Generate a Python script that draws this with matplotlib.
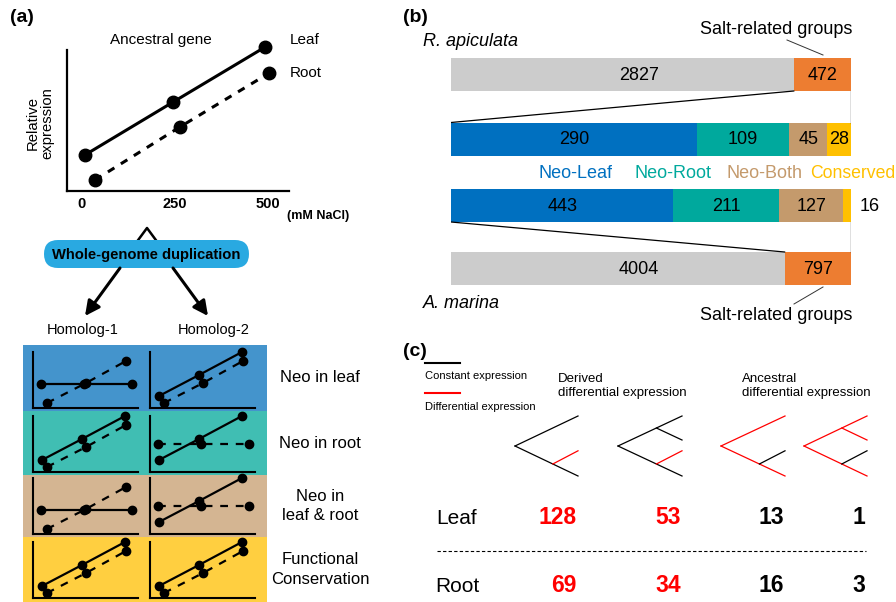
import matplotlib.pyplot as plt
from matplotlib.patches import Rectangle, FancyBboxPatch

plt.rcParams['font.family'] = ['Liberation Sans', 'DejaVu Sans']

W, H = 896, 602

# (a) ancestral gene expression (x in mM NaCl, y relative expression)
nacl_ticks = [0, 250, 500]
anc_leaf_x = [8, 245, 492]
anc_leaf_y = [36, 89, 144]
anc_root_x = [35, 263, 503]
anc_root_y = [11, 64, 118]

# (a) mini expression profiles for the two homologs
mini_leaf_x = [9, 49, 92]
mini_root_x = [14, 53, 93]
mini_flat_x = [8, 51, 99]
up_leaf = [12, 33, 56]
up_root = [5, 25, 47]
flat_leaf = [24, 24, 24]
flat_root = [28, 28, 28]

scenarios = ['Neo in leaf', 'Neo in root', 'Neo in\nleaf & root', 'Functional\nConservation']
scenario_colors = ['#4494CC', '#40BEB3', '#D4B592', '#FFCF40']
# per scenario: (leaf profile, root profile) for Homolog-1 and Homolog-2
homolog1 = [('flat', 'up'), ('up', 'up'), ('flat', 'up'), ('up', 'up')]
homolog2 = [('up', 'up'), ('up', 'flat'), ('up', 'flat'), ('up', 'up')]

# (b) gene group counts
ra_total = [2827, 472]
ra_salt = [290, 109, 45, 28]
am_salt = [443, 211, 127, 16]
am_total = [4004, 797]
group_names = ['Neo-Leaf', 'Neo-Root', 'Neo-Both', 'Conserved']
group_colors = ['#0070C0', '#00A99D', '#C49A6C', '#FFC000']
total_colors = ['#CCCCCC', '#ED7D31']

# (c) counts per tree pattern
leaf_counts = [128, 53, 13, 1]
root_counts = [69, 34, 16, 3]
count_colors = ['#FF0000', '#FF0000', 'black', 'black']

fig = plt.figure(figsize=(W / 100, H / 100), dpi=100)
ax0 = fig.add_axes([0, 0, 1, 1])
ax0.set_xlim(0, W)
ax0.set_ylim(H, 0)
ax0.axis('off')


def px_axes(x0, y0, x1, y1):
    a = fig.add_axes([x0 / W, 1 - y1 / H, (x1 - x0) / W, (y1 - y0) / H])
    a.patch.set_alpha(0)
    return a


# ---------- panel (a) ----------
ax0.text(10, 18, '(a)', fontsize=14, fontweight='bold', va='center')
ax0.text(161, 40, 'Ancestral gene', fontsize=11, ha='center', va='center')
ax0.text(290, 40, 'Leaf', fontsize=11, va='center')
ax0.text(290, 73, 'Root', fontsize=11, va='center')
ax0.text(40, 123, 'Relative\nexpression', fontsize=10.7, rotation=90,
         ha='center', va='center', linespacing=1.0)
ax0.text(287, 216, '(mM NaCl)', fontsize=9, fontweight='bold', va='center')

axa = px_axes(67, 50, 289, 191)
axa.plot(anc_leaf_x, anc_leaf_y, color='black', lw=2.2, marker='o', ms=9, clip_on=False)
axa.plot(anc_root_x, anc_root_y, color='black', lw=2.2, ls=(0, (2.5, 2.5)),
         marker='o', ms=9, clip_on=False)
axa.set_xlim(-40, 556)
axa.set_ylim(0, 141)
for s in ['top', 'right']:
    axa.spines[s].set_visible(False)
for s in ['left', 'bottom']:
    axa.spines[s].set_linewidth(1.6)
axa.set_xticks(nacl_ticks)
axa.set_xticklabels([str(t) for t in nacl_ticks], fontsize=10.5, fontweight='bold')
axa.tick_params(axis='x', length=0, pad=4)
axa.set_yticks([])

# duplication pill and arrows
ax0.plot([133, 147, 161], [247, 228, 247], color='black', lw=1.8, zorder=1)
pill = FancyBboxPatch((44, 240), 205, 28, boxstyle='round,pad=0,rounding_size=14',
                      facecolor='#29A9E1', edgecolor='none', zorder=2)
ax0.add_patch(pill)
ax0.text(146.5, 255, 'Whole-genome duplication', fontsize=10.6, fontweight='bold',
         ha='center', va='center', zorder=3)
for x0, x1 in [(120, 85), (173, 208)]:
    ax0.annotate('', xy=(x1, 316), xytext=(x0, 268),
                 arrowprops=dict(arrowstyle='-|>', color='black', lw=2.2,
                                 mutation_scale=22, shrinkA=0, shrinkB=0))
ax0.text(83, 330, 'Homolog-1', fontsize=10.5, ha='center', va='center')
ax0.text(214, 330, 'Homolog-2', fontsize=10.5, ha='center', va='center')

band_edges = [345, 411, 475, 537, 602]
mini_bottoms = [408, 472, 534, 598]
profiles = {'up': (mini_leaf_x, up_leaf, mini_root_x, up_root),
            'flat': (mini_flat_x, flat_leaf, mini_flat_x, flat_root)}
for i, name in enumerate(scenarios):
    y0, y1 = band_edges[i], band_edges[i + 1]
    ax0.add_patch(Rectangle((23, y0), 244, y1 - y0, facecolor=scenario_colors[i],
                            edgecolor='none'))
    ax0.text(320, (y0 + y1) / 2, name, fontsize=12, ha='center', va='center',
             linespacing=1.35)
    for col, hom in enumerate([homolog1, homolog2]):
        leaf_kind, root_kind = hom[i]
        x0 = 33 + col * 117
        b = mini_bottoms[i]
        am = px_axes(x0, b - 56, x0 + 105, b)
        lx, ly = profiles[leaf_kind][0], profiles[leaf_kind][1]
        rx, ry = profiles[root_kind][2], profiles[root_kind][3]
        am.plot(lx, ly, color='black', lw=1.6, marker='o', ms=6, clip_on=False)
        am.plot(rx, ry, color='black', lw=1.6, ls=(0, (3.5, 3.5)), marker='o', ms=6,
                clip_on=False)
        am.set_xlim(0, 105)
        am.set_ylim(0, 56)
        am.set_xticks([])
        am.set_yticks([])
        for s in ['top', 'right']:
            am.spines[s].set_visible(False)
        for s in ['left', 'bottom']:
            am.spines[s].set_linewidth(1.5)

# ---------- panel (b) ----------
ax0.text(403, 18, '(b)', fontsize=14, fontweight='bold', va='center')
ax0.text(423, 42, 'R. apiculata', fontsize=13, style='italic', va='center')
ax0.text(423, 303, 'A. marina', fontsize=13, style='italic', va='center')
ax0.text(776, 29, 'Salt-related groups', fontsize=13, ha='center', va='center')
ax0.text(776, 315, 'Salt-related groups', fontsize=13, ha='center', va='center')
ax0.plot([787, 823], [40, 55], color='#333333', lw=0.7)
ax0.plot([823, 794], [287, 304], color='#333333', lw=0.7)
for name, col, x in zip(group_names, group_colors, [538, 634, 727, 810]):
    ax0.text(x, 174, name, fontsize=12.7 if name == 'Conserved' else 13,
             color=col, va='center')

axb = px_axes(451, 0, 851, H)
axb.set_xlim(0, 1)
axb.set_ylim(H, 0)
axb.axis('off')

rows = [(ra_total, total_colors, 74.5), (ra_salt, group_colors, 139),
        (am_salt, group_colors, 205.5), (am_total, total_colors, 268.5)]
bar_h = 33
for vals, cols, yc in rows:
    tot = sum(vals)
    left = 0
    for j, (v, c) in enumerate(zip(vals, cols)):
        w = v / tot
        axb.barh(yc, w, left=left, height=bar_h, color=c, edgecolor='none')
        if c == '#CCCCCC':
            xt = 0.47
        else:
            xt = left + w / 2
        if v / tot > 0.03:
            axb.text(xt, yc + 1, str(v), fontsize=13, ha='center', va='center')
        else:
            axb.text(1.022, yc + 1, str(v), fontsize=13, ha='left', va='center')
        left += w

# connectors from the salt-related segment to its breakdown
ra_split = ra_total[0] / sum(ra_total)
am_split = am_total[0] / sum(am_total)
axb.plot([ra_split, 0], [74.5 + bar_h / 2, 139 - bar_h / 2], color='black', lw=0.9)
axb.plot([1, 1], [74.5 + bar_h / 2, 139 - bar_h / 2], color='black', lw=0.9)
axb.plot([0, am_split], [205.5 + bar_h / 2, 268.5 - bar_h / 2], color='black', lw=0.9)
axb.plot([1, 1], [205.5 + bar_h / 2, 268.5 - bar_h / 2], color='black', lw=0.9)

# ---------- panel (c) ----------
ax0.text(403, 352, '(c)', fontsize=14, fontweight='bold', va='center')
ax0.plot([425, 460], [363, 363], color='black', lw=1.5)
ax0.text(425, 376, 'Constant expression', fontsize=8, va='center')
ax0.plot([425, 460], [393, 393], color='#FF0000', lw=1.5)
ax0.text(425, 407, 'Differential expression', fontsize=8, va='center')
ax0.text(558, 386, 'Derived\ndifferential expression', fontsize=9.5, va='center',
         linespacing=1.15)
ax0.text(742, 386, 'Ancestral\ndifferential expression', fontsize=9.5, va='center',
         linespacing=1.15)

RED, BLK = '#FF0000', 'black'
# tree branches: (x0, y0, x1, y1, colour) in tree units; root at (0, 0.5)
trees = [
    [(0, .5, 1, 0, BLK), (0, .5, 1, 1, BLK), (.6, .8, 1, .58, RED)],
    [(0, .5, 1, 0, BLK), (0, .5, 1, 1, BLK), (.6, .2, 1, .4, BLK), (.6, .8, 1, .58, RED)],
    [(0, .5, 1, 0, RED), (0, .5, 1, 1, RED), (.6, .8, 1, .58, BLK)],
    [(0, .5, 1, 0, RED), (0, .5, 1, 1, RED), (.6, .2, 1, .4, RED), (.6, .8, 1, .58, BLK)],
]
tree_x = [(515, 578), (618, 682), (721, 785), (804, 867)]
for (tx0, tx1), segs in zip(tree_x, trees):
    at = px_axes(tx0, 416, tx1, 476)
    at.set_xlim(0, 1)
    at.set_ylim(1, 0)
    at.axis('off')
    for x0, y0, x1, y1, c in segs:
        at.plot([x0, x1], [y0, y1], color=c, lw=0.9, clip_on=False)

count_x = [577, 681, 784, 865]
ax0.text(436, 518, 'Leaf', fontsize=15, va='center')
ax0.text(435, 586, 'Root', fontsize=15, va='center')
for x, lv, rv, c in zip(count_x, leaf_counts, root_counts, count_colors):
    ax0.text(x, 518, str(lv), fontsize=16.5, fontweight='bold', color=c,
             ha='right', va='center')
    ax0.text(x, 586, str(rv), fontsize=16.5, fontweight='bold', color=c,
             ha='right', va='center')
ax0.plot([437, 866], [551, 551], color='black', lw=0.8, ls=(0, (3, 2)))

fig.savefig('out.png', dpi=100)
